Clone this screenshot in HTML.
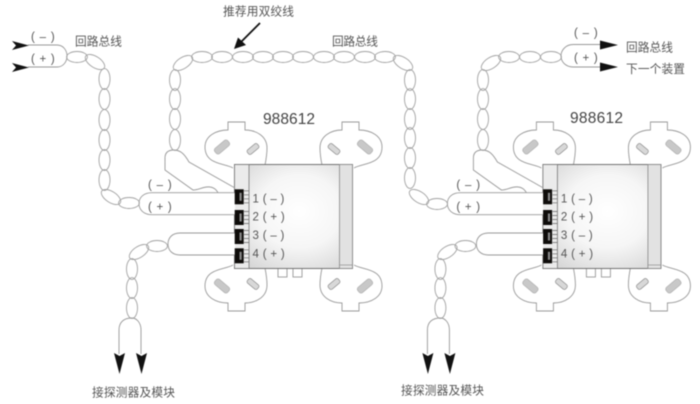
<!DOCTYPE html>
<html><head><meta charset="utf-8">
<style>
html,body{margin:0;padding:0;background:#fff}
svg{display:block;filter:blur(.4px)}
text{font-family:"Liberation Sans","Noto Sans CJK SC",sans-serif;fill:#555}
.c{font-size:11.7px}
.s{font-size:11.5px;letter-spacing:.3px;fill:#555}
.n{font-size:15.5px;fill:#444}
</style></head><body>
<svg width="700" height="404" viewBox="0 0 700 404" xmlns="http://www.w3.org/2000/svg">
<defs>
<radialGradient id="g" cx="55%" cy="45%" r="70%"><stop offset="0" stop-color="#fff"/><stop offset=".5" stop-color="#f6f6f6"/><stop offset="1" stop-color="#d4d4d4"/></radialGradient>
<ellipse id="h" rx="10.400" ry="5.500" fill="none" stroke="#a2a2a2" stroke-width=".9"/>
<ellipse id="v" rx="5.500" ry="10.400" fill="none" stroke="#a2a2a2" stroke-width=".9"/>
<ellipse id="d" rx="11" ry="5.500" transform="rotate(33)" fill="none" stroke="#a2a2a2" stroke-width=".9"/>
<ellipse id="u" rx="11" ry="5.500" transform="rotate(-33)" fill="none" stroke="#a2a2a2" stroke-width=".9"/>
<g id="ear">
<path d="M233 168C225 163 205 165 205 147C205 136 216 130 228 130V122H245V130C256 130 267 136 267 148C267 155 266 160 265 165" fill="#fff" stroke="#999" stroke-width=".9"/>
<rect x="213.500" y="143.500" width="17" height="7" rx="2.500" transform="rotate(-40 222 147)" fill="#c8c8c8" stroke="#aaa" stroke-width=".6"/>
<rect x="246.500" y="146.200" width="13" height="5.600" rx="2" transform="rotate(-40 253 149)" fill="#d8d8d8" stroke="#888" stroke-width=".7"/>
</g>
<g id="term">
<rect x="234.700" y="0" width="9" height="15" fill="#0e0c0a"/>
<rect x="239.500" y="3.500" width="2.200" height="8" fill="#888"/>
<path d="M244 1.500H249M244 5.500H249M244 9.500H249M244 13.500H249" stroke="#666" stroke-width=".7"/>
</g>
<g id="mod">
<use href="#ear"/>
<use href="#ear" transform="matrix(-1 0 0 1 587 0)"/>
<use href="#ear" transform="matrix(1 0 0 -1 0 433)"/>
<use href="#ear" transform="matrix(-1 0 0 -1 587 433)"/>
<rect x="278" y="268" width="9" height="9" fill="#fff" stroke="#999" stroke-width=".9"/>
<rect x="293" y="268" width="9" height="9" fill="#fff" stroke="#999" stroke-width=".9"/>
<rect x="234.500" y="164.500" width="118" height="104" fill="url(#g)" stroke="#666" stroke-width=".9"/>
<rect x="234.500" y="164.500" width="14.500" height="104" fill="#ebebeb" stroke="#777" stroke-width=".8"/>
<rect x="339.500" y="164.500" width="13" height="104" fill="#e2e2e2" stroke="#888" stroke-width=".8"/>
<path d="M339.500 265H352.500" stroke="#999" stroke-width=".8"/>
<path d="M165 158C165 152 169 150 174 150C181 150 185 155 189 162L235 188M165 158V170L193 190C199 190 204 186 210 187C219 188 219 198 224 203L235 210" fill="#fff" stroke="#999" stroke-width=".9"/>
<path d="M235 192.700H152C144 192.700 139 197 139 203.500C139 210 144 214.700 152 214.700H235" fill="#fff" stroke="#999" stroke-width=".9"/>
<path d="M235 233H180C172 233 168 238 168 244C168 250 172 255 180 255H235" fill="#fff" stroke="#999" stroke-width=".9"/>
<use href="#term" y="189.300"/><use href="#term" y="210"/><use href="#term" y="229"/><use href="#term" y="248.300"/>
<text class="s" x="252.500" y="202.500">1 ( – )</text>
<text class="s" x="252.500" y="220.500">2 ( + )</text>
<text class="s" x="252.500" y="239">3 ( – )</text>
<text class="s" x="252.500" y="257.500">4 ( + )</text>
<text class="s" x="148" y="188.500" textLength="24">( – )</text>
<text class="s" x="148" y="210.500" textLength="24">( + )</text>
<use href="#h" x="157" y="246"/><use href="#u" x="139" y="252"/>
<use href="#v" x="132" y="269"/><use href="#v" x="132" y="288"/><use href="#v" x="132" y="308"/>
<path d="M132 318C124 318 119 322 119 330V354M132 318C136 318 141 322 141 330V354" fill="none" stroke="#999" stroke-width=".9"/>
<path d="M114 353L119.500 356L125 353L119.500 374ZM136 353L141.500 356L147 353L141.500 374Z" fill="#111"/>
</g>
</defs>

<use href="#mod"/>
<use href="#mod" x="308.400"/>

<!-- left input chain -->
<path d="M28 45H57C63 45 67 50 67 56C67 62 63 67 57 67H28" fill="none" stroke="#999" stroke-width=".9"/>
<path d="M12 41L29 45.500L12 50L16 45.500ZM12 63L29 67.500L12 72L16 67.500Z" fill="#111"/>
<text class="s" x="31" y="40.500" textLength="24">( – )</text>
<text class="s" x="31" y="62.500" textLength="24">( + )</text>
<use href="#h" x="77" y="57"/><use href="#d" x="95" y="62"/>
<use href="#v" x="104.500" y="79"/><use href="#v" x="104.500" y="99"/><use href="#v" x="104.500" y="120"/><use href="#v" x="104.500" y="140"/><use href="#v" x="104.500" y="160"/><use href="#v" x="104.500" y="180"/>
<use href="#d" x="111" y="197"/><use href="#h" x="129" y="203"/>

<!-- middle chain -->
<use href="#v" x="175" y="80"/><use href="#v" x="175" y="99"/><use href="#v" x="175" y="119"/><use href="#v" x="175" y="140"/>
<use href="#u" x="183" y="63"/>
<use href="#h" x="202" y="57"/><use href="#h" x="222" y="57"/><use href="#h" x="243" y="57"/><use href="#h" x="263" y="57"/><use href="#h" x="283" y="57"/><use href="#h" x="303" y="57"/><use href="#h" x="324" y="57"/><use href="#h" x="344" y="57"/><use href="#h" x="365" y="57"/><use href="#h" x="385" y="57"/>
<use href="#d" x="403" y="63"/>
<use href="#v" x="410" y="80"/><use href="#v" x="410" y="99"/><use href="#v" x="410" y="119"/><use href="#v" x="410" y="138"/><use href="#v" x="410" y="158"/><use href="#v" x="410" y="178"/>
<use href="#d" x="419" y="197"/><use href="#h" x="437" y="204"/>

<!-- right output chain -->
<use href="#v" x="483" y="80"/><use href="#v" x="483" y="99"/><use href="#v" x="483" y="119"/><use href="#v" x="483" y="140"/>
<use href="#u" x="491" y="63"/>
<use href="#h" x="509" y="57"/><use href="#h" x="530" y="57"/><use href="#h" x="551" y="57"/>
<path d="M600 44.500H573C566 44.500 561 50 561 56C561 62 566 67 573 67H600" fill="none" stroke="#999" stroke-width=".9"/>
<path d="M600 40.500L618 45L600 49.500ZM600 62.500L618 67L600 71.500Z" fill="#111"/>
<text class="s" x="574" y="36.500" textLength="24">( – )</text>
<text class="s" x="574" y="61.500" textLength="24">( + )</text>

<!-- pointer arrow -->
<path d="M260 23L240 43" stroke="#111" stroke-width="1.800" fill="none"/>
<path d="M234 49L238 37.500L246 45Z" fill="#111"/>

<!-- labels -->
<text class="c" x="223" y="15.500" textLength="71">推荐用双绞线</text>
<text class="c" x="75" y="45.500" textLength="47">回路总线</text>
<text class="c" x="332" y="45.500" textLength="46">回路总线</text>
<text class="c" x="626" y="51.500" textLength="47">回路总线</text>
<text class="c" x="626" y="73" textLength="59">下一个装置</text>
<text class="c" x="92" y="396.500" textLength="83">接探测器及模块</text>
<text class="c" x="401" y="394.500" textLength="83">接探测器及模块</text>
<text class="n" x="263" y="124" textLength="52">988612</text>
<text class="n" x="570" y="123" textLength="53">988612</text>
</svg>
</body></html>
